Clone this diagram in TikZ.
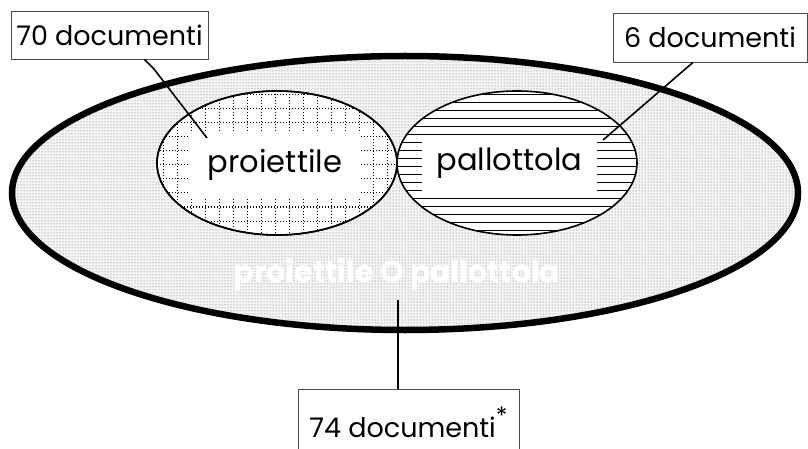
\documentclass[tikz,border=0pt]{standalone}
\usepackage{fontspec}
\setmainfont{Poppins}
\usetikzlibrary{shapes.geometric,patterns}
\begin{document}
\begin{tikzpicture}[x=1pt,y=-1pt,
  label box/.style={draw=black!70, line width=0.8pt, fill=white, inner sep=0pt, font=\fontsize{27}{29}\selectfont},
  set/.style={ellipse, draw=black, line width=1.6pt, inner sep=0pt},
  inner box/.style={fill=white, inner sep=0pt, font=\fontsize{30.5}{32}\selectfont},
  gridline/.style={draw=black, line width=1pt, dash pattern=on 1.2pt off 1.8pt},
  conn/.style={draw=black, line width=1.6pt}]
\useasboundingbox (0,0) rectangle (808,449);
% big ellipse
\node[ellipse, draw=black, line width=6.5pt, fill=black!4,
  minimum width=786pt, minimum height=274pt, inner sep=0pt] (big) at (405,193) {};
\path[pattern=dots, pattern color=black!60] (405,193) ellipse [x radius=390pt, y radius=134pt];
\node[font=\bfseries\fontsize{30}{32}\selectfont, text=white] (or) at (397,274) {proiettile O pallottola};
% left set with dotted grid
\node[set, fill=white, minimum width=240pt, minimum height=144pt,
  path picture={
    \foreach \i in {0,...,20} {\draw[gridline] ([xshift=\i*14pt+6pt]path picture bounding box.north west) -- ([xshift=\i*14pt+6pt]path picture bounding box.south west);}
    \foreach \j in {0,...,12} {\draw[gridline] ([yshift=-\j*14pt-4pt]path picture bounding box.north west) -- ([yshift=-\j*14pt-4pt]path picture bounding box.north east);}
  }] (pro) at (277,163) {};
% right set with horizontal lines
\node[set, fill=white, minimum width=240pt, minimum height=144pt,
  path picture={
    \foreach \j in {0,...,18} {\draw[black, line width=0.9pt] ([yshift=-\j*8pt-3pt]path picture bounding box.north west) -- ([yshift=-\j*8pt-3pt]path picture bounding box.north east);}
  }] (pal) at (517,163) {};
\node[set, minimum width=240pt, minimum height=144pt] at (277,163) {};
% inner white boxes
\node[inner box, minimum width=170pt, minimum height=65pt] (tpro) at (275,164.5) {proiettile};
\node[inner box, minimum width=175pt, minimum height=57pt] (tpal) at (509.5,163.5) {pallottola};
% labels
\node[label box, minimum width=197pt, minimum height=48pt] (l70) at (109.5,35) {70 documenti};
\node[label box, minimum width=194pt, minimum height=49pt] (l6) at (710,37.5) {6 documenti};
\node[label box, anchor=north, minimum width=221pt, minimum height=80pt, text depth=14pt] (l74) at (408.5,389) {74 documenti\raisebox{0.9ex}{\fontsize{24}{24}\selectfont *}};
% connectors
\coordinate (p70) at (207,138);
\coordinate (p6) at (603,140);
\coordinate (p74) at (398,300);
\draw[conn] ([xshift=35pt]l70.south) -- ++(9,9) -- (p70);
\draw[conn] ([xshift=-17pt]l6.south) -- (p6);
\draw[conn] (p74) -- (p74 |- l74.north);
\end{tikzpicture}
\end{document}
